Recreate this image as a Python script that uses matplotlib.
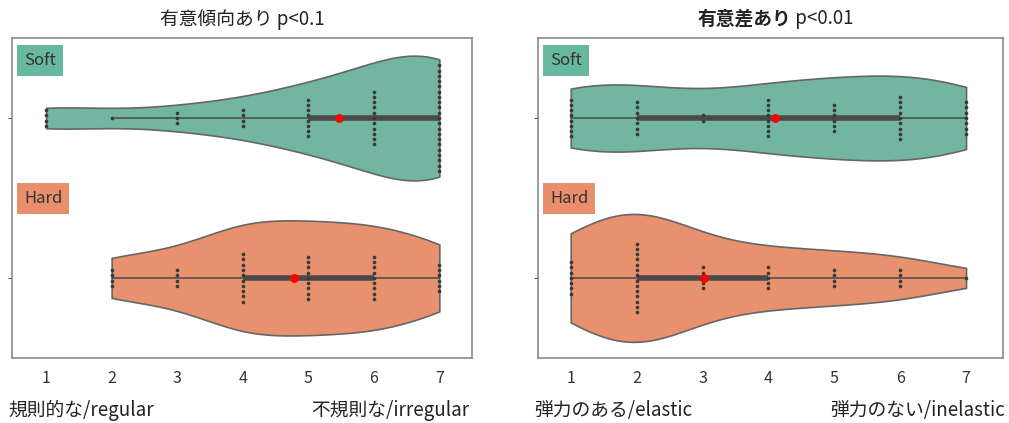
import numpy as np
import matplotlib
matplotlib.use("Agg")
import matplotlib.pyplot as plt

plt.rcParams['font.family'] = ['Noto Sans CJK JP', 'DejaVu Sans']

# likert values 1..7 and how many answers each got
levels = [1, 2, 3, 4, 5, 6, 7]
left_soft_counts = [4, 1, 3, 4, 8, 11, 21]
left_hard_counts = [0, 4, 4, 10, 9, 9, 6]
right_soft_counts = [8, 7, 2, 8, 6, 9, 7]
right_hard_counts = [7, 14, 5, 5, 4, 4, 1]

groups = ["Soft", "Hard"]
titles = ["有意傾向あり p<0.1", "有意差あり"]
title_suffix = " p<0.01"
left_words = ["規則的な/regular", "弾力のある/elastic"]
right_words = ["不規則な/irregular", "弾力のない/inelastic"]

fill_colors = ["#72b6a1", "#e8916f"]
box_colors = ["#68b89f", "#ea8f6d"]


def expand(counts):
    return np.repeat(levels, counts).astype(float)


def kde(data, grid):
    bw = data.std(ddof=1) * len(data) ** (-1 / 5)
    z = (grid[:, None] - data[None, :]) / bw
    return np.exp(-0.5 * z ** 2).sum(axis=1) / (len(data) * bw * np.sqrt(2 * np.pi))


def draw_panel(ax, all_counts, half_widths):
    datasets = [expand(c) for c in all_counts]
    for i, data in enumerate(datasets):
        grid = np.linspace(data.min(), data.max(), 200)
        den = kde(data, grid)
        half = den / den.max() * half_widths[i]
        ax.fill_between(grid, i - half, i + half, facecolor=fill_colors[i],
                        edgecolor="#666666", linewidth=1.2, zorder=1)
        # box part: thin whisker line and thick IQR line
        q1, q3 = np.percentile(data, [25, 75])
        iqr = q3 - q1
        lo = data[data >= q1 - 1.5 * iqr].min()
        hi = data[data <= q3 + 1.5 * iqr].max()
        ax.plot([lo, hi], [i, i], color="#4a4a4a", lw=1.1, zorder=2)
        ax.plot([q1, q3], [i, i], color="#4a4a4a", lw=4, zorder=2,
                solid_capstyle="butt")
        # stacked points
        for v, n in zip(levels, all_counts[i]):
            if n == 0:
                continue
            offs = (np.arange(n) - (n - 1) / 2) * 0.033
            ax.scatter(np.full(n, v), i + offs, s=7, color="#3a3a3a",
                       zorder=3, linewidths=0)
        ax.scatter([data.mean()], [i], s=40, color="#ff0000", zorder=4,
                   linewidths=0)
    ax.set_ylim(1.5, -0.5)
    ax.set_xticks(levels)
    ax.set_yticks([0, 1])
    ax.set_yticklabels([])
    ax.tick_params(axis="x", length=0, labelsize=11.5, pad=9, labelcolor="#333333")
    ax.tick_params(axis="y", length=3, color="#555555")
    for s in ax.spines.values():
        s.set_color("#8a8a8a")
        s.set_linewidth(1.2)
    ax.text(0.026, 0.955, groups[0], transform=ax.transAxes,
            ha="left", va="top", fontsize=12, color="#333333",
            bbox=dict(boxstyle="square,pad=0.42", fc=box_colors[0], ec="none"))
    ax.text(0.026, 0.525, groups[1], transform=ax.transAxes,
            ha="left", va="top", fontsize=12, color="#333333",
            bbox=dict(boxstyle="square,pad=0.42", fc=box_colors[1], ec="none"))


fig = plt.figure(figsize=(10.09, 4.23), dpi=100)
ax1 = fig.add_axes([0.0119, 0.154, 0.456, 0.756])
ax2 = fig.add_axes([0.533, 0.154, 0.461, 0.756])

draw_panel(ax1, [left_soft_counts, left_hard_counts], [0.39, 0.36])
draw_panel(ax2, [right_soft_counts, right_hard_counts], [0.265, 0.40])
ax1.set_xlim(0.48, 7.5)
ax2.set_xlim(0.5, 7.56)

fig.text(0.24, 0.955, titles[0], ha="center", va="center", fontsize=13.5,
         color="#222222")
t = fig.text(0.691, 0.955, titles[1], ha="left", va="center", fontsize=13.5,
             fontweight="bold", color="#222222")
fig.canvas.draw()
fig.text(0, 0, title_suffix, fontsize=13.5, color="#222222", va="bottom")
bb = t.get_window_extent()
fig.texts[-1].set_position((bb.x1 / fig.bbox.width, bb.y0 / fig.bbox.height))

fig.text(0.008, 0.03, left_words[0], ha="left", va="center", fontsize=13.5, color="#222222")
fig.text(0.465, 0.03, right_words[0], ha="right", va="center", fontsize=13.5, color="#222222")
fig.text(0.529, 0.03, left_words[1], ha="left", va="center", fontsize=13.5, color="#222222")
fig.text(0.996, 0.03, right_words[1], ha="right", va="center", fontsize=13.5, color="#222222")

fig.savefig("out.png", dpi=100)
